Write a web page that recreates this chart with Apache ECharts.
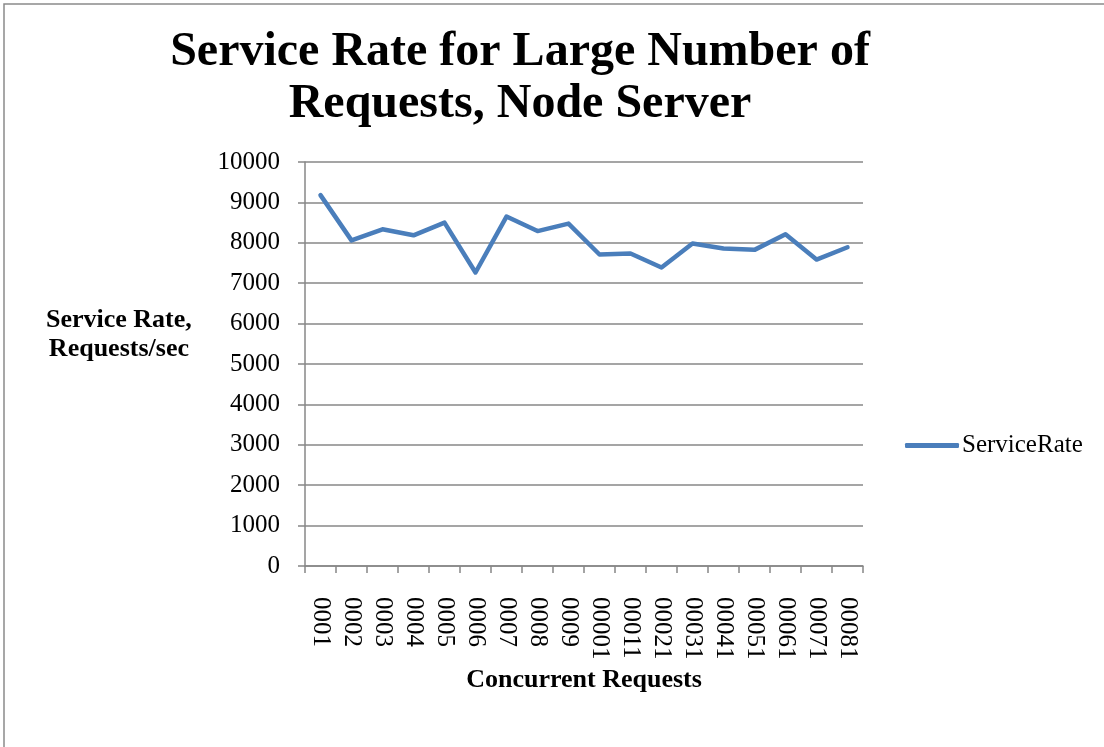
<!DOCTYPE html>
<html>
<head>
<meta charset="utf-8">
<script src="https://cdn.jsdelivr.net/npm/echarts@6/dist/echarts.min.js"></script>
<style>
  html, body { margin: 0; padding: 0; background: #fff; }
  #chart { width: 1104px; height: 747px; }
</style>
</head>
<body>
<div id="chart"></div>
<script>
// concurrent requests (x categories)
var categories = ['1000', '2000', '3000', '4000', '5000', '6000', '7000', '8000', '9000',
    '10000', '11000', '12000', '13000', '14000', '15000', '16000', '17000', '18000'];
// service rate, requests/sec
var serviceRate = [9180, 8060, 8335, 8185, 8500, 7265, 8650, 8290, 8475,
    7710, 7735, 7390, 7985, 7860, 7825, 8210, 7585, 7890];

var serif = '"Liberation Serif", "DejaVu Serif", serif';
var gridColor = '#878787';

var chart = echarts.init(document.getElementById('chart'));

var option = {
    backgroundColor: '#fff',
    animation: false,
    title: {
        text: 'Service Rate for Large Number of\nRequests, Node Server',
        left: 515,
        textAlign: 'center',
        top: 22,
        textStyle: {
            fontFamily: serif,
            fontWeight: 'bold',
            fontSize: 48,
            lineHeight: 52,
            color: '#000'
        }
    },
    legend: {
        left: 900,
        top: 428,
        icon: 'roundRect',
        itemWidth: 54,
        itemHeight: 5,
        itemGap: 10,
        textStyle: { fontFamily: serif, fontSize: 25, color: '#000', padding: [0, 0, 0, -2] },
        data: ['ServiceRate']
    },
    grid: {
        left: 305,
        right: 241,
        top: 162,
        bottom: 181
    },
    xAxis: {
        type: 'category',
        data: categories,
        boundaryGap: true,
        name: 'Concurrent Requests',
        nameLocation: 'middle',
        nameGap: 97,
        nameTextStyle: { fontFamily: serif, fontWeight: 'bold', fontSize: 26, color: '#000' },
        axisLine: { lineStyle: { color: gridColor, width: 1.5 } },
        axisTick: { show: true, alignWithLabel: false, length: 7, lineStyle: { color: gridColor, width: 1.5 } },
        axisLabel: {
            // the source picture shows these labels mirrored: digits reversed, read top-down
            rotate: -90,
            margin: 31,
            interval: 0,
            fontFamily: serif,
            fontSize: 25,
            color: '#000',
            formatter: function (v) {
                return v.split('').reverse().join('');
            }
        }
    },
    yAxis: {
        type: 'value',
        min: 0,
        max: 10000,
        interval: 1000,
        axisLine: { show: true, lineStyle: { color: gridColor, width: 1.5 } },
        axisTick: { show: true, length: 7, lineStyle: { color: gridColor, width: 1.5 } },
        splitLine: { lineStyle: { color: gridColor, width: 1.5 } },
        axisLabel: {
            margin: 25,
            fontFamily: serif,
            fontSize: 25,
            color: '#000',
            formatter: function (v) { return String(v); }
        }
    },
    graphic: [
        {
            type: 'rect',
            shape: { x: 4, y: 4, width: 1300, height: 900 },
            style: { fill: 'none', stroke: '#8a8a8a', lineWidth: 1.5 },
            silent: true
        },
        {
            type: 'text',
            left: 46,
            top: 306,
            style: {
                text: 'Service Rate,\nRequests/sec',
                fontFamily: serif,
                fontWeight: 'bold',
                fontSize: 26,
                lineHeight: 29,
                textAlign: 'center',
                fill: '#000'
            }
        }
    ],
    series: [{
        name: 'ServiceRate',
        type: 'line',
        data: serviceRate,
        symbol: 'none',
        smooth: false,
        color: '#4A7EBB',
        lineStyle: { width: 4.5, color: '#4A7EBB', cap: 'round', join: 'round' }
    }]
};

chart.setOption(option);
</script>
</body>
</html>
